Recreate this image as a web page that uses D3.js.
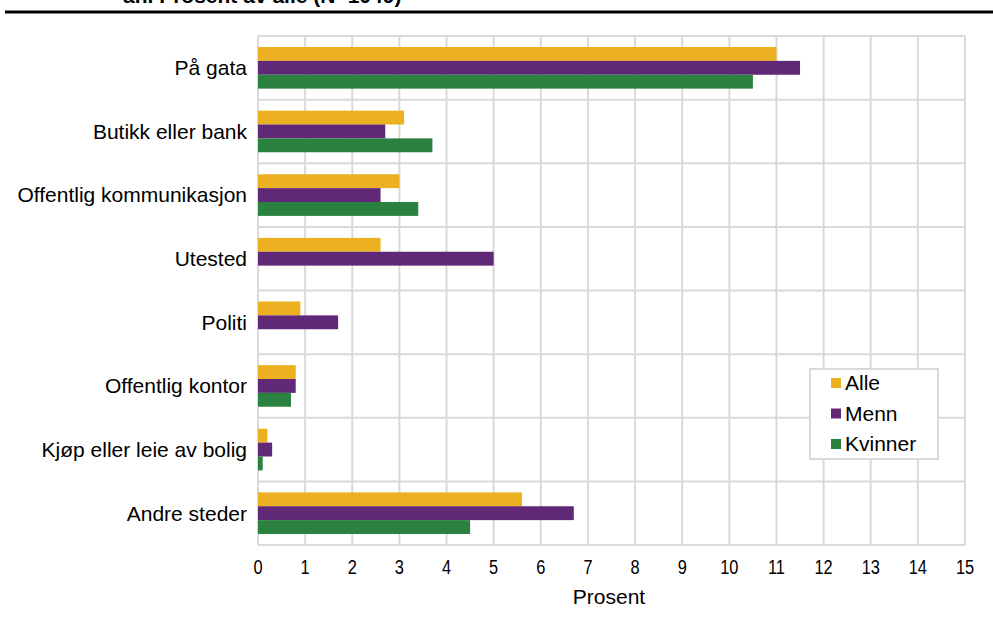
<!DOCTYPE html>
<html>
<head>
<meta charset="utf-8">
<script src="https://cdn.jsdelivr.net/npm/d3@7"></script>
<style>
  html, body { margin: 0; padding: 0; background: #fff; }
  svg text { font-family: "Liberation Sans", Arial, sans-serif; }
</style>
</head>
<body>
<div id="chart"></div>
<script>
const WIDTH = 993;
const HEIGHT = 624;
const MARGIN = { top: 36, right: 28, bottom: 79, left: 258 };
const GRID = '#d9d9d9';
const FONT = '21px';

const CATEGORIES = [
  'På gata',
  'Butikk eller bank',
  'Offentlig kommunikasjon',
  'Utested',
  'Politi',
  'Offentlig kontor',
  'Kjøp eller leie av bolig',
  'Andre steder'
];
const SERIES = ['Alle', 'Menn', 'Kvinner'];
const COLORS = ['#ebb121', '#612878', '#2a8140'];
const ALLE = [11, 3.1, 3.0, 2.6, 0.9, 0.8, 0.2, 5.6];
const MENN = [11.5, 2.7, 2.6, 5.0, 1.7, 0.8, 0.3, 6.7];
const KVINNER = [10.5, 3.7, 3.4, 0, 0, 0.7, 0.1, 4.5];
const X_TICKS = d3.range(0, 16);

const values = [ALLE, MENN, KVINNER];

const svg = d3.select('#chart')
  .append('svg')
  .attr('width', WIDTH)
  .attr('height', HEIGHT);

// title, cut off by the top edge as in the source, and the rule under it
svg.append('text')
  .attr('x', 123)
  .attr('y', 3)
  .style('font-size', '21px')
  .style('font-weight', 'bold')
  .text('an. Prosent av alle (N=1049)');

svg.append('line')
  .attr('x1', 5).attr('x2', WIDTH)
  .attr('y1', 12).attr('y2', 12)
  .attr('stroke', '#000')
  .attr('stroke-width', 3);

const xScale = d3.scaleLinear()
  .domain([0, 15])
  .range([MARGIN.left, WIDTH - MARGIN.right]);
const yScale = d3.scaleBand()
  .domain(CATEGORIES)
  .range([MARGIN.top, HEIGHT - MARGIN.bottom]);
const inner = d3.scaleBand()
  .domain(SERIES)
  .range([11, yScale.bandwidth() - 11]);

// grid
const grid = svg.append('g');
grid.selectAll('.vline')
  .data(X_TICKS)
  .enter()
  .append('line')
  .attr('x1', d => xScale(d)).attr('x2', d => xScale(d))
  .attr('y1', MARGIN.top).attr('y2', HEIGHT - MARGIN.bottom)
  .attr('stroke', GRID)
  .attr('stroke-width', 2);
const hBounds = CATEGORIES.map(c => yScale(c)).concat([HEIGHT - MARGIN.bottom]);
grid.selectAll('.hline')
  .data(hBounds)
  .enter()
  .append('line')
  .attr('x1', MARGIN.left).attr('x2', WIDTH - MARGIN.right)
  .attr('y1', d => d).attr('y2', d => d)
  .attr('stroke', GRID)
  .attr('stroke-width', 2);

// bars
const rows = [];
CATEGORIES.forEach((c, i) => {
  SERIES.forEach((s, j) => {
    rows.push({ cat: c, series: s, value: values[j][i], color: COLORS[j] });
  });
});
svg.append('g')
  .selectAll('rect')
  .data(rows.filter(d => d.value > 0))
  .enter()
  .append('rect')
  .attr('x', xScale(0))
  .attr('y', d => yScale(d.cat) + inner(d.series))
  .attr('width', d => xScale(d.value) - xScale(0))
  .attr('height', inner.bandwidth())
  .attr('fill', d => d.color);

// category labels
svg.append('g')
  .selectAll('text')
  .data(CATEGORIES)
  .enter()
  .append('text')
  .attr('x', MARGIN.left - 11)
  .attr('y', d => yScale(d) + yScale.bandwidth() / 2)
  .attr('dy', '0.35em')
  .style('font-size', FONT)
  .style('text-anchor', 'end')
  .text(d => d);

// x tick labels (narrow digits in the source)
svg.append('g')
  .selectAll('text')
  .data(X_TICKS)
  .enter()
  .append('text')
  .attr('transform', d => `translate(${xScale(d)}, 574) scale(0.78, 1)`)
  .style('font-size', FONT)
  .style('text-anchor', 'middle')
  .text(d => d);

svg.append('text')
  .attr('x', 609)
  .attr('y', 604)
  .style('font-size', FONT)
  .style('text-anchor', 'middle')
  .text('Prosent');

// legend
const legend = svg.append('g').attr('transform', 'translate(810, 369)');
legend.append('rect')
  .attr('width', 128)
  .attr('height', 90)
  .attr('fill', '#fff')
  .attr('stroke', GRID)
  .attr('stroke-width', 2);
SERIES.forEach((s, i) => {
  legend.append('rect')
    .attr('x', 21)
    .attr('y', 9 + i * 30.5)
    .attr('width', 10)
    .attr('height', 10)
    .attr('fill', COLORS[i]);
  legend.append('text')
    .attr('x', 35)
    .attr('y', 14 + i * 30.5)
    .attr('dy', '0.35em')
    .style('font-size', FONT)
    .text(s);
});
</script>
</body>
</html>
